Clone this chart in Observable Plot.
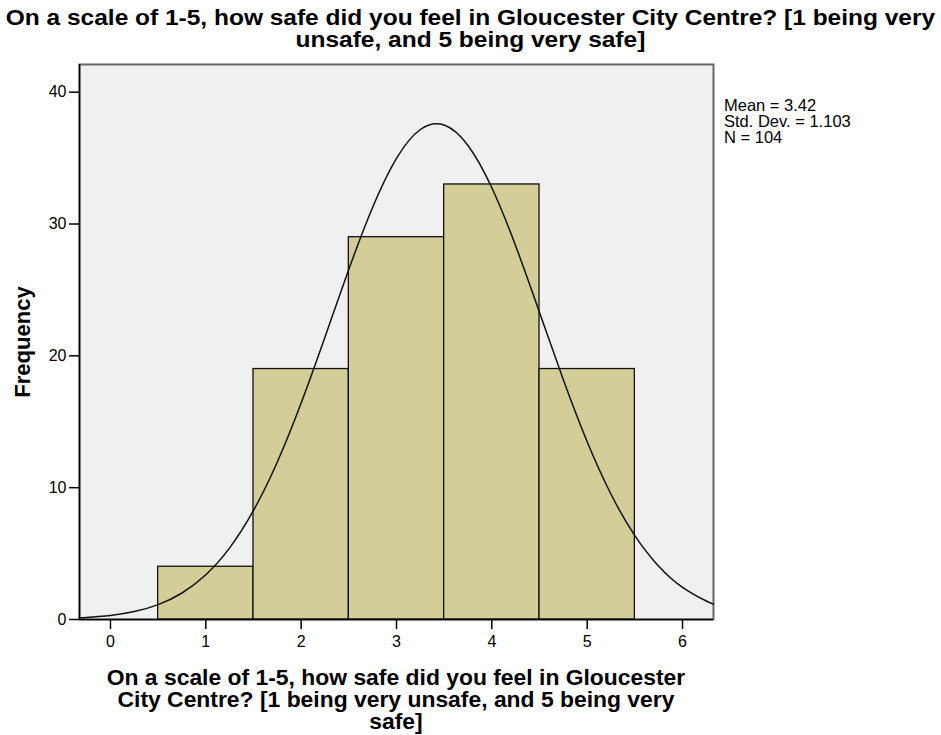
<!DOCTYPE html>
<html>
<head>
<meta charset="utf-8">
<script src="https://cdn.jsdelivr.net/npm/d3@7"></script>
<script src="https://cdn.jsdelivr.net/npm/@observablehq/plot@0.6"></script>
<style>
  html, body { margin: 0; padding: 0; background: #fff; }
  #wrap { position: relative; width: 941px; height: 735px; font-family: "Liberation Sans", Arial, sans-serif; }
  #title { position: absolute; left: 0; top: 7px; width: 941px; text-align: center; font-weight: bold; font-size: 22px; line-height: 22px; color: #000; white-space: nowrap; transform: scaleX(1.113); transform-origin: 471px 0; }
  #xlabel { position: absolute; left: 86px; top: 667px; width: 620px; text-align: center; font-weight: bold; font-size: 22px; line-height: 22px; color: #000; white-space: nowrap; transform: scaleX(1.04); transform-origin: 310px 0; }
  #stats { position: absolute; left: 724px; top: 97px; font-size: 16.5px; line-height: 16px; color: #000; white-space: nowrap; }
  #chart { position: absolute; left: 0; top: 0; }
</style>
</head>
<body>
<div id="wrap">
  <div id="chart"></div>
  <div id="title"></div>
  <div id="xlabel"></div>
  <div id="stats"></div>
</div>
<script>
const titleText = "On a scale of 1-5, how safe did you feel in Gloucester City Centre? [1 being very<br>unsafe, and 5 being very safe]";
const xLabelText = "On a scale of 1-5, how safe did you feel in Gloucester<br>City Centre? [1 being very unsafe, and 5 being very<br>safe]";
const yLabelText = "Frequency";
const statsLines = ["Mean = 3.42", "Std. Dev. = 1.103", "N = 104"];

// Histogram bins (rating) and frequencies
const ratings = [1, 2, 3, 4, 5];
const counts = [4, 19, 29, 33, 19];

// Fitted normal curve
const curveX = [-0.325, 0, 0.25, 0.5, 0.75, 1, 1.25, 1.5, 1.75, 2, 2.25, 2.5, 2.75, 3, 3.25, 3.5, 3.75, 4, 4.25, 4.5, 4.75, 5, 5.25, 5.5, 5.75, 6, 6.25, 6.325];
const curveY = [0.12, 0.31, 0.60, 1.13, 2.01, 3.39, 5.43, 8.27, 11.95, 16.42, 21.43, 26.56, 31.27, 34.98, 37.17, 37.51, 35.96, 32.75, 28.34, 23.29, 18.18, 13.48, 9.50, 6.36, 4.04, 2.44, 1.40, 1.17];

const xTicks = [0, 1, 2, 3, 4, 5, 6];
const yTicks = [0, 10, 20, 30, 40];
const xTickLabels = ["0", "1", "2", "3", "4", "5", "6"];
const yTickLabels = ["0", "10", "20", "30", "40"];
const xDomain = [-0.325, 6.325];
const yDomain = [0, 42.1];

const bars = ratings.map((r, i) => ({rating: r, count: counts[i]}));
const curve = curveX.map((x, i) => ({x, y: curveY[i]}));
const xTickData = xTicks.map((v, i) => ({v, label: xTickLabels[i]}));
const yTickData = yTicks.map((v, i) => ({v, label: yTickLabels[i]}));

document.getElementById("title").innerHTML = titleText;
document.getElementById("xlabel").innerHTML = xLabelText;
document.getElementById("stats").innerHTML = statsLines.join("<br>");

const plot = Plot.plot({
  width: 941,
  height: 735,
  marginLeft: 79,
  marginRight: 228,
  marginTop: 64,
  marginBottom: 116,
  style: {fontFamily: "Liberation Sans, Arial, sans-serif", fontSize: "16px", color: "#000", background: "transparent"},
  x: {domain: xDomain, label: null},
  y: {domain: yDomain, label: null},
  marks: [
    Plot.frame({fill: "#f0f0f0", stroke: "#666", strokeWidth: 2}),
    Plot.rectY(bars, {x1: d => d.rating - 0.5, x2: d => d.rating + 0.5, y: "count", fill: "#d3ce97", stroke: "#111", strokeWidth: 1.3, inset: 0}),
    Plot.line(curve, {x: "x", y: "y", curve: "natural", stroke: "#111", strokeWidth: 1.5}),
    Plot.axisX({ticks: xTicks, tickSize: 10, tickFormat: () => "", label: null, strokeWidth: 1.5}),
    Plot.axisY({ticks: yTicks, tickSize: 10, tickFormat: () => "", label: null, strokeWidth: 1.5}),
    Plot.text(xTickData, {x: "v", y: () => yDomain[0], text: "label", dy: 22, fontSize: 16, fill: "#000"}),
    Plot.text(yTickData, {x: () => xDomain[0], y: "v", text: "label", dx: -13, textAnchor: "end", fontSize: 16, fill: "#000"}),
    Plot.ruleX([xDomain[0]], {stroke: "#000", strokeWidth: 1.5}),
    Plot.ruleY([0], {stroke: "#000", strokeWidth: 1.5}),
    Plot.text([yLabelText], {frameAnchor: "left", textAnchor: "middle", dx: -57, rotate: -90, fontWeight: "bold", fontSize: 22, fill: "#000"})
  ]
});
document.getElementById("chart").appendChild(plot);
</script>
</body>
</html>
